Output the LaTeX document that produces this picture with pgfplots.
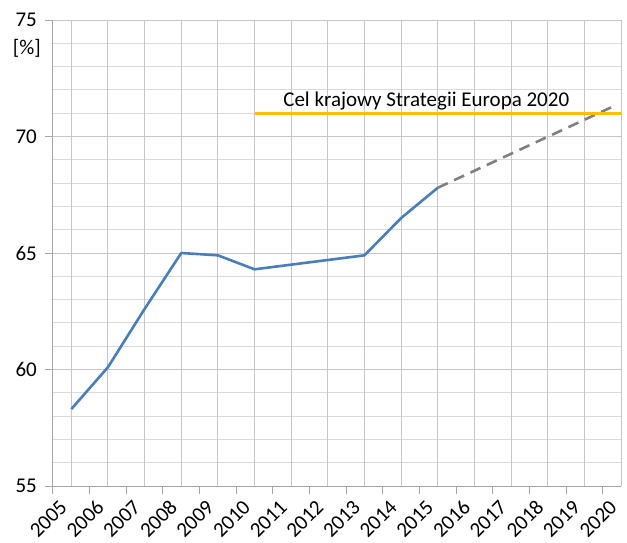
\documentclass[border=0pt]{standalone}
\usepackage{fontspec}
\setmainfont{Carlito}
\usepackage{pgfplots}
\pgfplotsset{compat=1.18}
\definecolor{lineblue}{HTML}{4A7EBB}
\definecolor{goldline}{HTML}{FFC000}
\definecolor{dashgray}{HTML}{808080}
\definecolor{gridmaj}{HTML}{C6C6C6}
\definecolor{gridmin}{HTML}{DADADA}
\definecolor{axisgray}{HTML}{A6A6A6}
\begin{document}
\begin{tikzpicture}[font=\fontsize{21}{25}\selectfont]
\path[use as bounding box] (-53pt,-56pt) rectangle (574pt,486pt);
\begin{axis}[
  at={(0,0)}, anchor=south west,
  scale only axis, width=568pt, height=466pt,
  xmin=2004.5, xmax=2020, ymin=55, ymax=75,
  axis lines=left,
  axis line style={-, draw=axisgray, line width=1pt},
  xtick={2004.5,2005.5,...,2019.5},
  xticklabels={},
  xmajorgrids=false,
  extra x ticks={2005,2006,...,2020},
  extra x tick labels={2005,2006,2007,2008,2009,2010,2011,2012,2013,2014,2015,2016,2017,2018,2019,2020},
  extra x tick style={grid=major, major tick length=0pt,
     tick label style={yshift=-17pt, xshift=-7pt, rotate=45, anchor=east, inner sep=1pt}},
  ytick={55,60,...,75},
  yticklabels={55,60,65,70,75},
  minor ytick={56,...,74},
  ymajorgrids, yminorgrids,
  major grid style={draw=gridmaj, line width=1pt},
  minor grid style={draw=gridmin, line width=1pt},
  tick align=outside,
  major tick length=8pt,
  minor tick length=0pt,
  tick style={draw=axisgray, line width=1pt},
  yticklabel style={anchor=east, inner sep=0pt, xshift=-8pt},
  tick label style={font=\fontsize{21}{25}\selectfont},
  clip=false,
]
\addplot[lineblue, line width=2.6pt, line join=round] coordinates {
  (2005,58.3) (2006,60.1) (2007,62.6) (2008,65.0) (2009,64.9) (2010,64.3)
  (2011,64.5) (2012,64.7) (2013,64.9) (2014,66.5) (2015,67.8)
};
\addplot[dashgray, line width=2.6pt, dash pattern=on 11pt off 7pt] coordinates {
  (2015,67.8) (2019.8,71.3)
};
\addplot[goldline, line width=2.6pt] coordinates {
  (2010,71.0) (2020,71.0)
};
\node[anchor=base west, inner sep=0pt] at (axis cs:2010.78,71.3) {Cel krajowy Strategii Europa 2020};
\node[anchor=east, inner sep=0pt] at ([xshift=-12pt]axis cs:2004.5,73.8) {[\%]};
\end{axis}
\end{tikzpicture}
\end{document}
